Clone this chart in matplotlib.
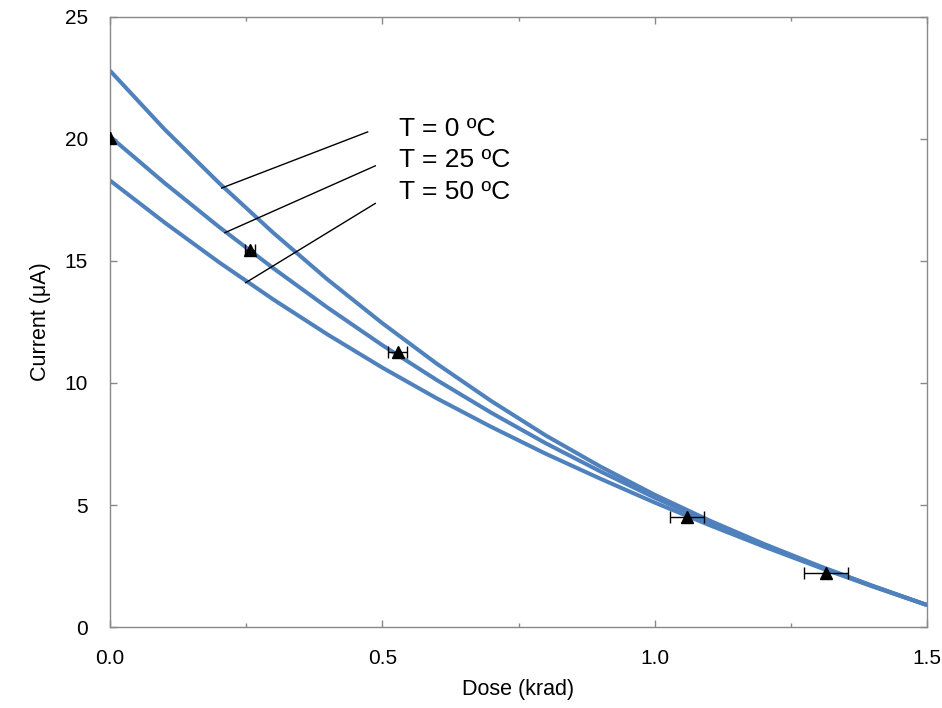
import matplotlib
matplotlib.use("Agg")
import matplotlib.pyplot as plt
from matplotlib.ticker import MultipleLocator, FormatStrFormatter

plt.rcParams['font.family'] = ['Liberation Sans', 'DejaVu Sans']

# Fitted curves
dose_grid = [0.0, 0.1, 0.2, 0.3, 0.4, 0.5, 0.6, 0.7, 0.8, 0.9, 1.0, 1.1, 1.2, 1.3, 1.4, 1.5]
curve_T0 = [22.8, 20.4, 18.2, 16.15, 14.23, 12.45, 10.79, 9.26, 7.85, 6.58, 5.42, 4.37, 3.41, 2.52, 1.69, 0.9]
curve_T25 = [20.1, 18.2, 16.4, 14.7, 13.08, 11.55, 10.12, 8.78, 7.53, 6.38, 5.3, 4.3, 3.37, 2.5, 1.68, 0.9]
curve_T50 = [18.3, 16.58, 14.95, 13.42, 11.98, 10.63, 9.37, 8.2, 7.1, 6.08, 5.1, 4.18, 3.3, 2.46, 1.66, 0.9]

# Measured points
meas_dose = [0.0, 0.257, 0.528, 1.059, 1.314]
meas_current = [20.05, 15.45, 11.27, 4.5, 2.23]
meas_dose_err = [0.0, 0.009, 0.017, 0.031, 0.04]

labels = ["T = 0 \u00baC", "T = 25 \u00baC", "T = 50 \u00baC"]
label_anchor = [(0.205, 17.99), (0.211, 16.16), (0.249, 14.11)]
label_lineend = [(0.473, 20.29), (0.487, 18.9), (0.487, 17.36)]
label_text_y = [20.43, 19.14, 17.83]

fig = plt.figure(figsize=(9.42, 7.08), dpi=100)
ax = fig.add_axes([0.1168, 0.1144, 0.8673, 0.8616])

blue = '#4F81BD'
for c in (curve_T0, curve_T25, curve_T50):
    ax.plot(dose_grid, c, color=blue, lw=2.9, solid_capstyle='butt',
            solid_joinstyle='round', zorder=2)

ax.errorbar(meas_dose, meas_current, xerr=meas_dose_err, fmt='^', color='black',
            markersize=8, ecolor='black', elinewidth=1.0, capsize=4, capthick=1.0, zorder=3)

for (x0, y0), (x1, y1), ty, lab in zip(label_anchor, label_lineend, label_text_y, labels):
    ax.plot([x0, x1], [y0, y1], color='black', lw=1.0, zorder=4)
    ax.text(0.53, ty, lab, fontsize=19, va='center', ha='left', color='black')

ax.set_xlim(0, 1.5)
ax.set_ylim(0, 25)
ax.xaxis.set_major_locator(MultipleLocator(0.5))
ax.xaxis.set_minor_locator(MultipleLocator(0.25))
ax.xaxis.set_major_formatter(FormatStrFormatter('%.1f'))
ax.yaxis.set_major_locator(MultipleLocator(5))

ax.tick_params(which='both', direction='in', top=True, right=True, color='#898989',
               labelsize=15, pad=16)
ax.tick_params(which='major', length=5, width=1)
ax.tick_params(which='minor', length=3, width=1)
for s in ax.spines.values():
    s.set_color('#898989')
    s.set_linewidth(1.0)

ax.set_xlabel('Dose (krad)', fontsize=15.5, labelpad=8)
ax.set_ylabel('Current (\u03bcA)', fontsize=15.5, labelpad=10)

fig.savefig('out.png', dpi=100)
